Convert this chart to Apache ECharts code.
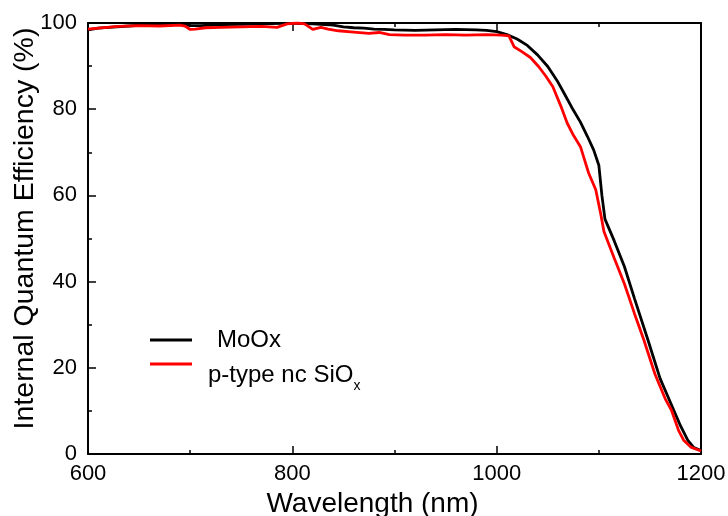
<!DOCTYPE html>
<html>
<head>
<meta charset="utf-8">
<script src="https://cdn.jsdelivr.net/npm/echarts@6/dist/echarts.min.js"></script>
<style>html,body{margin:0;padding:0;background:#fff}#c{width:728px;height:516px}</style>
</head>
<body>
<div id="c"></div>
<script>
const moox_wl = [600,610,620,640,660,680,690,700,710,730,750,770,790,800,820,840,850,860,870,880,890,900,920,940,960,980,990,1000,1010,1020,1030,1040,1050,1060,1066,1075,1082,1089,1095,1100,1103,1106,1115,1125,1135,1148,1160,1170,1180,1187,1193,1200];
const moox_iqe = [98.4,98.8,99.0,99.3,99.6,99.5,99.8,99.4,99.4,99.6,99.7,99.8,99.9,99.9,99.8,99.5,99.1,98.9,98.8,98.6,98.5,98.4,98.3,98.4,98.5,98.4,98.3,98.0,97.3,96.3,94.8,92.6,89.9,86.3,83.7,79.8,77.0,73.6,70.5,67.0,60.0,54.5,49.5,43.5,36.0,26.5,17.5,12.0,6.5,3.2,1.5,0.8];
const sio_wl = [600,610,630,650,670,690,695,700,705,715,730,750,770,785,795,805,812,820,828,835,845,860,875,885,895,910,930,950,970,990,1005,1012,1017,1025,1033,1041,1048,1055,1063,1069,1075,1082,1090,1097,1102,1105,1115,1125,1135,1144,1155,1165,1171,1178,1183,1190,1200];
const sio_iqe = [98.6,98.8,99.2,99.4,99.3,99.5,99.3,98.5,98.6,98.9,99.0,99.1,99.2,99.0,99.8,100,99.8,98.5,99.0,98.6,98.2,97.9,97.6,97.8,97.3,97.2,97.2,97.3,97.2,97.3,97.2,97.0,94.5,93.3,92.0,89.9,87.7,85.2,80.6,76.8,74.0,71.3,65.2,61.3,55.5,51.6,45.5,39.5,32.5,26.5,18.5,12.8,10.2,5.5,3.2,1.6,0.7];
const seriesNames = ['MoOx', 'p-type nc SiOx'];
const xTitle = 'Wavelength (nm)';
const yTitle = 'Internal Quantum Efficiency (%)';

const font = 'Liberation Sans, Arial, sans-serif';
const chart = echarts.init(document.getElementById('c'), null, {renderer: 'canvas'});
const pair = (xs, ys) => xs.map((x, i) => [x, ys[i]]);
const axisLine = {show: true, onZero: false, lineStyle: {color: '#000', width: 2}};
const tick = {show: true, inside: true, length: 8, lineStyle: {color: '#000', width: 1.5}};
const minor = {show: true, splitNumber: 2, length: 4, lineStyle: {color: '#000', width: 1.5}};
const lblFmt = v => String(v);
chart.setOption({
  animation: false,
  backgroundColor: '#fff',
  grid: {left: 88, right: 27, top: 23, bottom: 62, containLabel: false, outerBoundsMode: 'none'},
  legend: [{
    orient: 'vertical', left: 150, top: 328, itemWidth: 42, itemHeight: 3, icon: 'rect', padding: 0,
    data: [seriesNames[0]],
    textStyle: {fontFamily: font, fontSize: 24, color: '#000',
      rich: {n: {fontFamily: font, fontSize: 24, lineHeight: 24, color: '#000', padding: [0, 0, 0, 20]}}},
    formatter: name => '{n|' + name + '}'
  }, {
    orient: 'vertical', left: 150, top: 335, itemWidth: 42, itemHeight: 3, icon: 'rect', padding: 0,
    data: [seriesNames[1]],
    textStyle: {fontFamily: font, fontSize: 24, color: '#000',
      rich: {n: {fontFamily: font, fontSize: 24, lineHeight: 24, color: '#000', padding: [22, 0, 0, 11]},
             sub: {fontFamily: font, fontSize: 14, lineHeight: 14, color: '#000', padding: [44, 0, 0, 0]}}},
    formatter: () => '{n|p-type nc SiO}{sub|x}'
  }],
  xAxis: [{
    type: 'value', min: 600, max: 1200, interval: 200, position: 'bottom',
    name: xTitle, nameLocation: 'middle', nameGap: 36, nameMoveOverlap: false,
    nameTextStyle: {fontFamily: font, fontSize: 28, color: '#000', padding: [0, 44, 0, 0]},
    axisLine: axisLine, axisTick: tick, minorTick: minor,
    axisLabel: {fontFamily: font, fontSize: 22, color: '#000', margin: 9, formatter: lblFmt},
    splitLine: {show: false}
  }, {
    type: 'value', min: 600, max: 1200, interval: 200, position: 'top',
    axisLine: axisLine, axisTick: tick, minorTick: minor,
    axisLabel: {show: false}, splitLine: {show: false}
  }],
  yAxis: [{
    type: 'value', min: 0, max: 100, interval: 20, position: 'left',
    name: yTitle, nameLocation: 'middle', nameGap: 48, nameRotate: 90, nameMoveOverlap: false,
    nameTextStyle: {fontFamily: font, fontSize: 28.5, color: '#000', padding: [0, 0, 0, 20]},
    axisLine: axisLine, axisTick: tick, minorTick: minor,
    axisLabel: {fontFamily: font, fontSize: 22, color: '#000', margin: 11, formatter: lblFmt},
    splitLine: {show: false}
  }, {
    type: 'value', min: 0, max: 100, interval: 20, position: 'right',
    axisLine: axisLine, axisTick: {show: false}, axisLabel: {show: false}, splitLine: {show: false}
  }],
  series: [{
    name: seriesNames[0], type: 'line', data: pair(moox_wl, moox_iqe),
    showSymbol: false, symbol: 'none', z: 3,
    lineStyle: {color: '#000', width: 2.8}, itemStyle: {color: '#000'}
  }, {
    name: seriesNames[1], type: 'line', data: pair(sio_wl, sio_iqe),
    showSymbol: false, symbol: 'none', z: 4,
    lineStyle: {color: '#ff0000', width: 2.8}, itemStyle: {color: '#ff0000'}
  }]
});
</script>
</body>
</html>
